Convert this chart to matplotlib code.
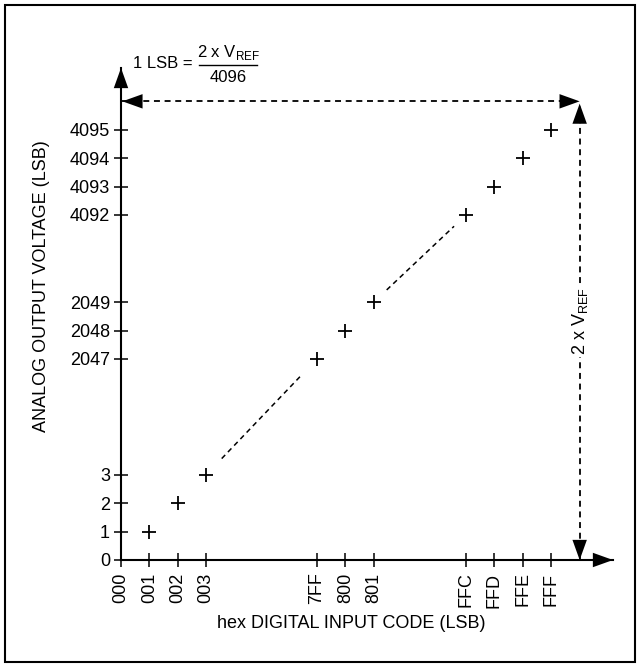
import matplotlib.pyplot as plt
from matplotlib.patches import Rectangle
from matplotlib.lines import Line2D

plt.rcParams['font.family'] = ['Liberation Sans', 'DejaVu Sans']

# DAC transfer function (ideal), codes in hex, output in LSB
input_codes = [0x001, 0x002, 0x003, 0x7FF, 0x800, 0x801, 0xFFC, 0xFFD, 0xFFE, 0xFFF]
output_lsb = [1, 2, 3, 2047, 2048, 2049, 4092, 4093, 4094, 4095]
x_tick_codes = [0x000] + input_codes
x_tick_labels = ['000', '001', '002', '003', '7FF', '800', '801', 'FFC', 'FFD', 'FFE', 'FFF']
y_tick_values = [0] + output_lsb
full_scale = 4096

# broken axes: (first value of a group, where that group starts on the axis)
x_groups = [(0x000, 0.0), (0x7FF, 6.9), (0xFFC, 12.15)]
y_groups = [(0, 0.0), (2047, 7.08), (4092, 12.15)]


def squeeze(v, groups):
    for start, pos in reversed(groups):
        if v >= start:
            return pos + (v - start)


xs = [squeeze(c, x_groups) for c in input_codes]
ys = [squeeze(v, y_groups) for v in output_lsb]
x_fs = squeeze(full_scale, x_groups)
y_fs = squeeze(full_scale, y_groups)

W, H = 638, 666
unit = 28.4  # pixels per step
ox, oy = 121, 560
x_max = (613 - ox) / unit
y_max = (oy - 68) / unit

fig = plt.figure(figsize=(W / 100, H / 100), dpi=100)
ax = fig.add_axes([ox / W, (H - oy) / H, (613 - ox) / W, (oy - 68) / H])
ax.set_xlim(0, x_max)
ax.set_ylim(0, y_max)
ax.patch.set_alpha(0)

for s in ['top', 'right']:
    ax.spines[s].set_visible(False)
for s in ['bottom', 'left']:
    ax.spines[s].set_linewidth(1.5)

ax.set_xticks([squeeze(c, x_groups) for c in x_tick_codes])
ax.set_xticklabels(x_tick_labels, rotation=90, fontsize=13)
ax.set_yticks([squeeze(v, y_groups) for v in y_tick_values])
ax.set_yticklabels([str(v) for v in y_tick_values], fontsize=13)
ax.tick_params(direction='inout', length=10, width=1.1, pad=4)
ax.tick_params(axis='y', pad=3)

# points
ax.plot(xs, ys, linestyle='none', marker='+', markersize=10, markeredgewidth=1.3,
        color='black', clip_on=False)

# dashed connectors across the breaks
for i in range(len(xs) - 1):
    if input_codes[i + 1] - input_codes[i] > 1:
        dx, dy = xs[i + 1] - xs[i], ys[i + 1] - ys[i]
        t0, t1 = 0.14, 0.87
        ax.plot([xs[i] + t0 * dx, xs[i] + t1 * dx], [ys[i] + t0 * dy, ys[i] + t1 * dy],
                color='black', lw=1.1, dashes=(3.3, 2.6))


def head(tip, tail):
    ax.annotate('', xy=tip, xytext=tail, annotation_clip=False,
                arrowprops=dict(arrowstyle='-|>,head_length=1.45,head_width=0.52',
                                mutation_scale=10, lw=0, color='black',
                                shrinkA=0, shrinkB=0))


# axis arrows
head((x_max, 0), (x_max - 1, 0))
head((0, y_max), (0, y_max - 1))

# full-scale dimension arrows
ax.plot([0.05, x_fs], [y_fs, y_fs], color='black', lw=1.3, dashes=(3.3, 2.6), clip_on=False)
ax.plot([x_fs, x_fs], [0, y_fs - 0.1], color='black', lw=1.3, dashes=(3.3, 2.6), clip_on=False)
head((0.05, y_fs), (1.05, y_fs))
head((x_fs, y_fs), (x_fs - 1, y_fs))
head((x_fs, y_fs - 0.08), (x_fs, y_fs - 1.08))
head((x_fs, 0), (x_fs, 1))

ax.text(x_fs, y_fs * 0.52, r'2 x V$_{\mathregular{REF}}$', rotation=90, fontsize=13,
        ha='center', va='center',
        bbox=dict(facecolor='white', edgecolor='none', pad=1))

# 1 LSB = 2 x VREF / 4096
fig.text(133 / W, 1 - 64 / H, '1 LSB =', fontsize=12, ha='left', va='center')
fig.text(228 / W, 1 - 53 / H, r'2 x V$_{\mathregular{REF}}$', fontsize=12, ha='center', va='center')
fig.add_artist(Line2D([199 / W, 257 / W], [1 - 65 / H, 1 - 65 / H], color='black', lw=1.0))
fig.text(228 / W, 1 - 77 / H, '4096', fontsize=12, ha='center', va='center')

fig.text(351 / W, 1 - 623 / H, 'hex DIGITAL INPUT CODE (LSB)', fontsize=13, ha='center', va='center')
fig.text(42 / W, 1 - 286 / H, 'ANALOG OUTPUT VOLTAGE (LSB)', fontsize=13, rotation=90,
         ha='center', va='center')

# outer frame
fig.add_artist(Rectangle((5 / W, 4 / H), 630 / W, 657 / H, fill=False, lw=1.5,
                         edgecolor='black', transform=fig.transFigure))

fig.savefig('out.png', dpi=100)
